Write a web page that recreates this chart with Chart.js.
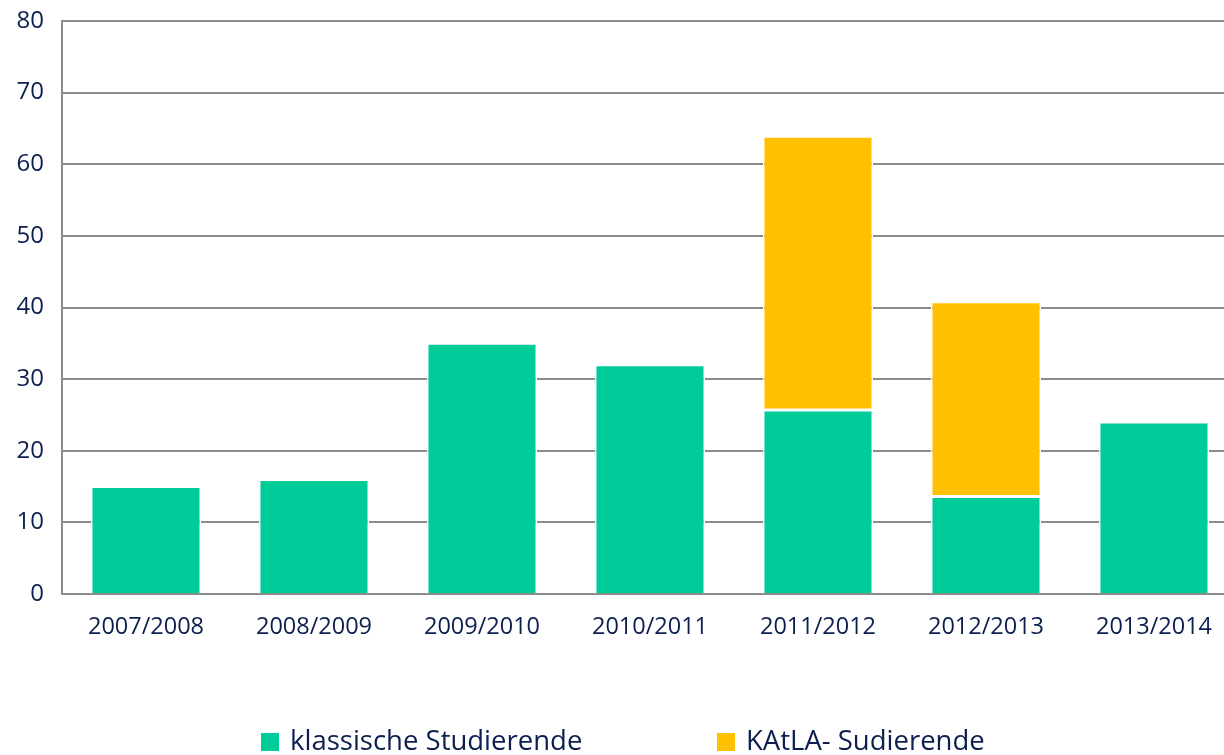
<!DOCTYPE html>
<html>
<head>
<meta charset="utf-8">
<script src="https://cdn.jsdelivr.net/npm/chart.js@4/dist/chart.umd.min.js"></script>
<style>
  html, body { margin: 0; padding: 0; background: #fff; overflow: hidden; }
  #wrap { width: 1224px; height: 755px; overflow: hidden; }
</style>
</head>
<body>
<div id="wrap"><canvas id="barCanvas" width="1238" height="755"></canvas></div>
<script>
// Daten
const semester = ["2007/2008", "2008/2009", "2009/2010", "2010/2011", "2011/2012", "2012/2013", "2013/2014"];
const klassisch = [15, 16, 35, 32, 25.7, 13.6, 24];
const katla = [null, null, null, null, 38.2, 27.2, null];
const seriesNames = ["klassische Studierende", "KAtLA- Sudierende"];
const yTicks = [0, 10, 20, 30, 40, 50, 60, 70, 80];

const navy = "#0c1f4f";
const gridGray = "#8c8c8c";
const fontFam = "'Open Sans', sans-serif";

// eigene Legende unten
const bottomLegend = {
  id: "bottomLegend",
  afterDraw(chart) {
    const ctx = chart.ctx;
    const ds = chart.data.datasets;
    const startX = [261, 717];
    const box = 18, gapText = 11, y = 742;
    ctx.save();
    ctx.font = "27.5px " + fontFam;
    ctx.textBaseline = "middle";
    ds.forEach((d, i) => {
      ctx.fillStyle = d.backgroundColor;
      ctx.fillRect(startX[i], y - box / 2, box, box);
      ctx.fillStyle = navy;
      ctx.fillText(d.label, startX[i] + box + gapText, y);
    });
    ctx.restore();
  }
};

new Chart(document.getElementById("barCanvas").getContext("2d"), {
  type: "bar",
  data: {
    labels: semester,
    datasets: [
      {
        label: seriesNames[0],
        data: klassisch,
        backgroundColor: "#00cc99",
        borderColor: "#ffffff",
        borderWidth: 1.5,
        borderSkipped: "start"
      },
      {
        label: seriesNames[1],
        data: katla,
        backgroundColor: "#ffc000",
        borderColor: "#ffffff",
        borderWidth: 1.5,
        borderSkipped: false
      }
    ]
  },
  options: {
    responsive: false,
    animation: false,
    layout: { padding: { top: 21, right: 0, bottom: 0, left: 0 } },
    datasets: {
      bar: { categoryPercentage: 1.0, barPercentage: 0.655 }
    },
    plugins: {
      legend: { display: false },
      tooltip: { enabled: false }
    },
    scales: {
      x: {
        stacked: true,
        grid: { display: false, drawTicks: false },
        border: { display: false },
        ticks: {
          color: navy,
          font: { family: fontFam, size: 23.5 },
          padding: 19,
          maxRotation: 0
        },
        afterFit: s => { s.height = 161; s.paddingLeft = 0; s.paddingRight = 0; }
      },
      y: {
        stacked: true,
        min: 0,
        max: 80,
        afterBuildTicks: s => { s.ticks = yTicks.map(v => ({ value: v })); },
        grid: { color: gridGray, lineWidth: 2, drawTicks: false },
        border: { display: true, color: gridGray, width: 2 },
        ticks: {
          color: navy,
          font: { family: fontFam, size: 24 },
          padding: 18
        },
        afterFit: s => { s.width = 62; s.paddingTop = 0; s.paddingBottom = 0; }
      }
    }
  },
  plugins: [bottomLegend]
});
</script>
</body>
</html>
